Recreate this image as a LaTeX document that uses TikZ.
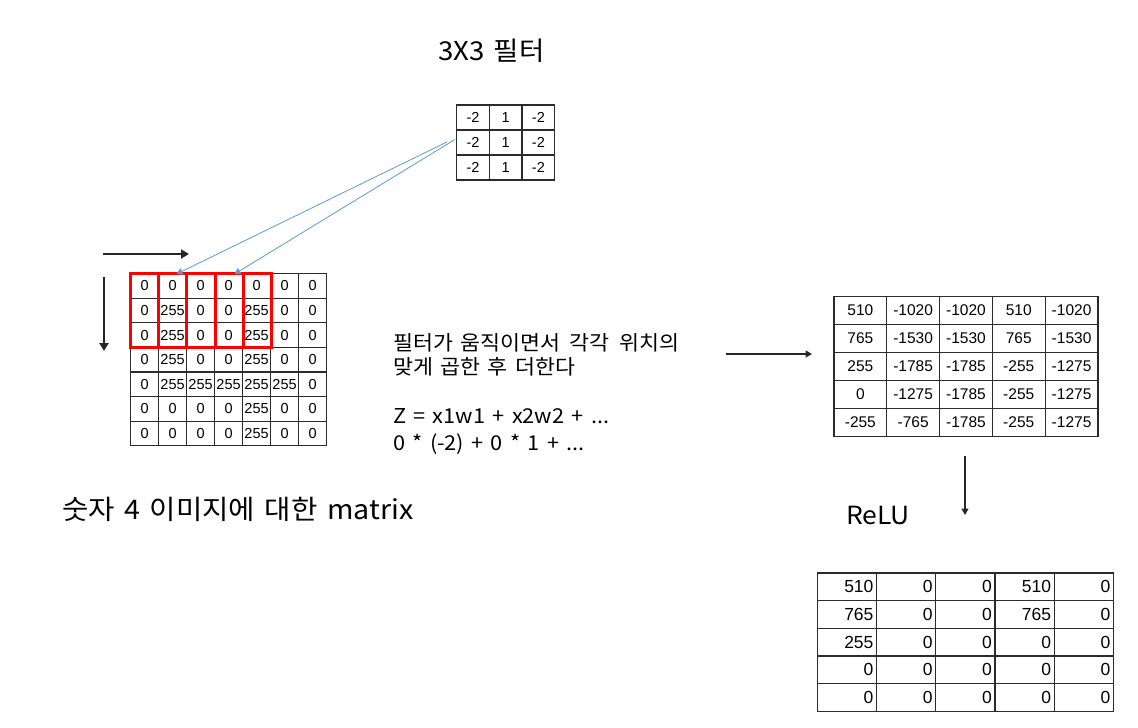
\documentclass[tikz,border=0pt]{standalone}
\usepackage{fontspec}
\setmainfont{Liberation Sans}
\newfontfamily\kr[FakeStretch=1.06,WordSpace=1.5]{Noto Sans CJK KR}
\usetikzlibrary{arrows.meta}
\definecolor{tabline}{HTML}{2B2B2B}
\definecolor{winred}{HTML}{FF0000}
\definecolor{linkblue}{HTML}{5B9BD5}
\begin{document}
\begin{tikzpicture}[x=1pt,y=-1pt,
  cellin/.style={draw=tabline, line width=1.1pt, minimum width=28pt, minimum height=24.6pt, inner sep=0pt, anchor=north west, font=\fontsize{14.5}{14.5}\selectfont},
  cellf/.style={draw=tabline, line width=1.3pt, minimum width=32.7pt, minimum height=25pt, inner sep=0pt, anchor=north west, font=\fontsize{14.5}{14.5}\selectfont},
  cellout/.style={draw=tabline, line width=1.3pt, minimum width=52.8pt, minimum height=28pt, inner sep=0pt, anchor=north west, font=\fontsize{15.5}{15.5}\selectfont},
  cellrelu/.style={draw=tabline, line width=1.3pt, minimum height=27.7pt, text width=53pt, inner xsep=3.1pt, inner ysep=0pt, align=right, anchor=north west, font=\fontsize{17.5}{17.5}\selectfont},
  window/.style={draw=winred, line width=3pt},
  link/.style={draw=linkblue, line width=0.8pt, -{Triangle[width=7pt,length=6pt]}},
  bigarrow/.style={draw=black!85, line width=2.2pt, -{Triangle[width=9pt,length=8pt]}},
  smallarrow/.style={draw=black!85, line width=1.4pt, -{Triangle[width=7pt,length=6.5pt]}},
  krtext/.style={font=\kr\fontsize{#1}{#1}\selectfont, inner sep=0pt, anchor=base west}
]
\useasboundingbox (0,0) rectangle (1138,728);
\fill[white] (0,0) rectangle (1138,728);

% input matrix (digit 4)
\foreach \rowvals [count=\r] in {{0,0,0,0,0,0,0},{0,255,0,0,255,0,0},{0,255,0,0,255,0,0},{0,255,0,0,255,0,0},{0,255,255,255,255,255,0},{0,0,0,0,255,0,0},{0,0,0,0,255,0,0}}{
  \foreach \v [count=\c] in \rowvals {
    \node[cellin] (in-\r-\c) at ({130+28*(\c-1)},{273+24.6*(\r-1)}) {\v};
  }
}

% 3x3 filter
\foreach \rowvals [count=\r] in {{-2,1,-2},{-2,1,-2},{-2,1,-2}}{
  \foreach \v [count=\c] in \rowvals {
    \node[cellf] (f-\r-\c) at ({456+32.7*(\c-1)},{104.3+25*(\r-1)}) {\v};
  }
}

% convolution output
\foreach \rowvals [count=\r] in {{510,-1020,-1020,510,-1020},{765,-1530,-1530,765,-1530},{255,-1785,-1785,-255,-1275},{0,-1275,-1785,-255,-1275},{-255,-765,-1785,-255,-1275}}{
  \foreach \v [count=\c] in \rowvals {
    \node[cellout] (o-\r-\c) at ({833.3+52.8*(\c-1)},{296+28*(\r-1)}) {\v};
  }
}

% ReLU output
\foreach \rowvals [count=\r] in {{510,0,0,510,0},{765,0,0,765,0},{255,0,0,0,0},{0,0,0,0,0},{0,0,0,0,0}}{
  \foreach \v [count=\c] in \rowvals {
    \node[cellrelu] (r-\r-\c) at ({816.7+59.2*(\c-1)},{572.3+27.7*(\r-1)}) {\v};
  }
}

% sliding windows
\foreach \k in {1,2,3}{
  \pgfmathtruncatemacro{\kk}{\k+2}
  \draw[window] (in-1-\k.north west) rectangle (in-3-\kk.south east);
}

% links from filter
\coordinate (fs1) at ([xshift=-9pt,yshift=0.5pt]f-2-1.west);
\coordinate (fs2) at ([xshift=-1pt,yshift=3pt]f-2-1.west);
\draw[link] (fs1) -- ([xshift=4pt,yshift=-1pt]in-1-2.north);
\draw[link] (fs2) -- ([xshift=6pt,yshift=-1pt]in-1-4.north);

% direction arrows
\coordinate (hs) at (103,254);
\coordinate (he) at (189,254);
\coordinate (vs) at (104,277);
\coordinate (ve) at (104,351);
\draw[bigarrow] (hs) -- (he);
\draw[bigarrow] (vs) -- (ve);

% texts
\node[krtext=26] (title) at (438,60) {3X3 필터};
\node[krtext=27] (caption) at (62,519.5) {숫자 4 이미지에 대한 matrix};
\node[krtext=20.5] (d1) at (393,350) {필터가 움직이면서 \hspace{2pt}각각 \hspace{2pt}위치의};
\node[krtext=20.5] (d2) at (393,374) {맞게 곱한 후 더한다};
\node[krtext=20.5] (d3) at (393,423) {Z = x1w1 + x2w2 + ...};
\node[krtext=20.5] (d4) at (393,450) {0 * (-2) + 0 * 1 + ...};
\node[krtext=25] (relu) at (846,524) {ReLU};

% right-side arrows
\coordinate (ms) at (726,354);
\coordinate (me) at (812,354);
\draw[smallarrow] (ms) -- (me);
\coordinate (ds) at (965,456);
\coordinate (de) at (965,515);
\draw[smallarrow] (ds) -- (de);
\end{tikzpicture}
\end{document}
